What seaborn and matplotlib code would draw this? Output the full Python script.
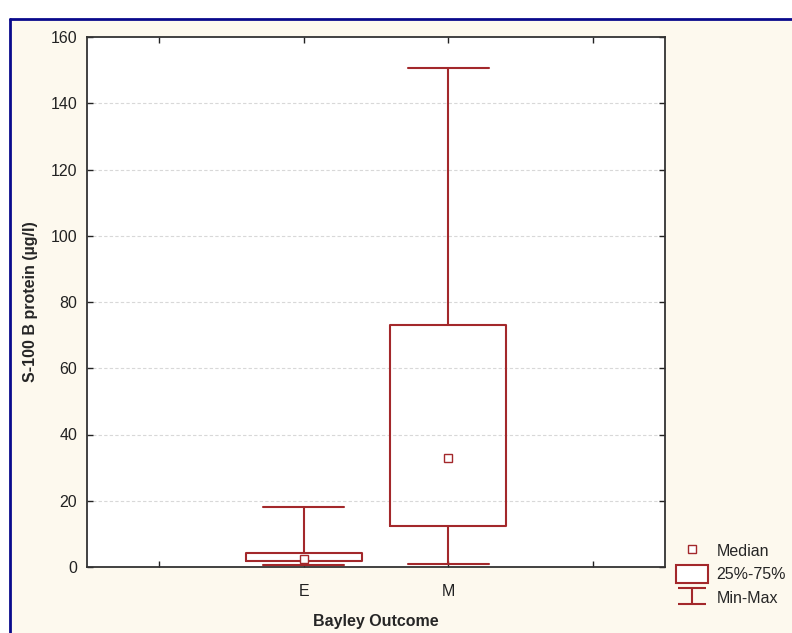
import numpy as np
import pandas as pd
import seaborn as sns
import matplotlib.pyplot as plt
from matplotlib.lines import Line2D
from matplotlib.patches import Patch, Rectangle
from matplotlib.path import Path

# five-number summaries: min, Q1, median, Q3, max
groups = ['E', 'M']
e_values = [0.6, 1.9, 2.4, 4.2, 18.1]
m_values = [0.9, 12.4, 32.9, 73.1, 150.6]
y_ticks = [0, 20, 40, 60, 80, 100, 120, 140, 160]
legend_labels = ['Median', '25%-75%', 'Min-Max']

red = '#A3282B'
cream = '#FDF9EE'

df = pd.DataFrame({
    'Bayley Outcome': ['E'] * len(e_values) + ['M'] * len(m_values),
    'S100B': e_values + m_values,
})

sns.set_style('ticks')
plt.rcParams['font.family'] = ['Liberation Sans', 'DejaVu Sans']

fig = plt.figure(figsize=(7.92, 6.33), dpi=100)
fig.patch.set_facecolor('white')
# cream panel with the blue frame on left/top
fig.add_artist(Rectangle((10 / 792, 0), 1, 1 - 19 / 633, transform=fig.transFigure,
                         facecolor=cream, edgecolor='none', zorder=-10))
fig.add_artist(Line2D([10 / 792, 10 / 792], [0, 1 - 19 / 633], transform=fig.transFigure,
                      color='#0A0A8C', lw=2))
fig.add_artist(Line2D([10 / 792, 1], [1 - 19 / 633, 1 - 19 / 633], transform=fig.transFigure,
                      color='#0A0A8C', lw=2))

ax = fig.add_axes([87 / 792, 66 / 633, 578 / 792, 530 / 633])
ax.set_facecolor('white')

sns.boxplot(data=df, x='Bayley Outcome', y='S100B', order=groups, whis=(0, 100),
            width=0.8, fill=False, color=red, linewidth=1.5, capwidths=0.56,
            medianprops=dict(visible=False), ax=ax)
sns.pointplot(data=df, x='Bayley Outcome', y='S100B', order=groups, estimator='median',
              errorbar=None, linestyle='none', marker='s', markersize=6,
              markerfacecolor='white', markeredgecolor=red, markeredgewidth=1.0,
              color=red, ax=ax, zorder=5)

ax.set_xlim(-1.5, 2.5)
ax.set_ylim(0, 160)
ax.set_xticks([-1, 0, 1, 2])
ax.set_xticklabels(['', 'E', 'M', ''])
ax.set_yticks(y_ticks)
ax.tick_params(direction='in', length=4, width=1, top=True, right=True,
               labelsize=11.5, colors='#222222')
ax.tick_params(axis='y', pad=7)
ax.tick_params(axis='x', pad=12)
for s in ax.spines.values():
    s.set_visible(True)
    s.set_color('#333333')
    s.set_linewidth(1.3)
for v in y_ticks[1:-1]:
    ax.axhline(v, color='#D8D8D8', lw=0.8, ls=(0, (3, 2)), zorder=0)

ax.set_xlabel('Bayley Outcome', fontsize=11.5, fontweight='bold', labelpad=11)
ax.set_ylabel('S-100 B protein (\u00b5g/l)', fontsize=11.5, fontweight='bold', labelpad=9)

cap_path = Path([(-1, 0.6), (1, 0.6), (0, 0.6), (0, -0.6), (-1, -0.6), (1, -0.6)],
                [Path.MOVETO, Path.LINETO, Path.MOVETO, Path.LINETO, Path.MOVETO, Path.LINETO])
handles = [
    Line2D([], [], marker='s', ls='none', markersize=6, markerfacecolor='white',
           markeredgecolor=red, markeredgewidth=1.0),
    Patch(facecolor='white', edgecolor=red, linewidth=1.5),
    Line2D([], [], marker=cap_path, ls='none', markersize=20, markeredgecolor=red,
           markerfacecolor='none', markeredgewidth=1.5),
]
fig.legend(handles, legend_labels, loc='lower left', bbox_to_anchor=(662 / 792, 12 / 633),
           frameon=False, fontsize=11.5, handlelength=2.0, handleheight=1.3,
           labelspacing=0.4, handletextpad=0.5)

fig.savefig('out.png', dpi=100)
